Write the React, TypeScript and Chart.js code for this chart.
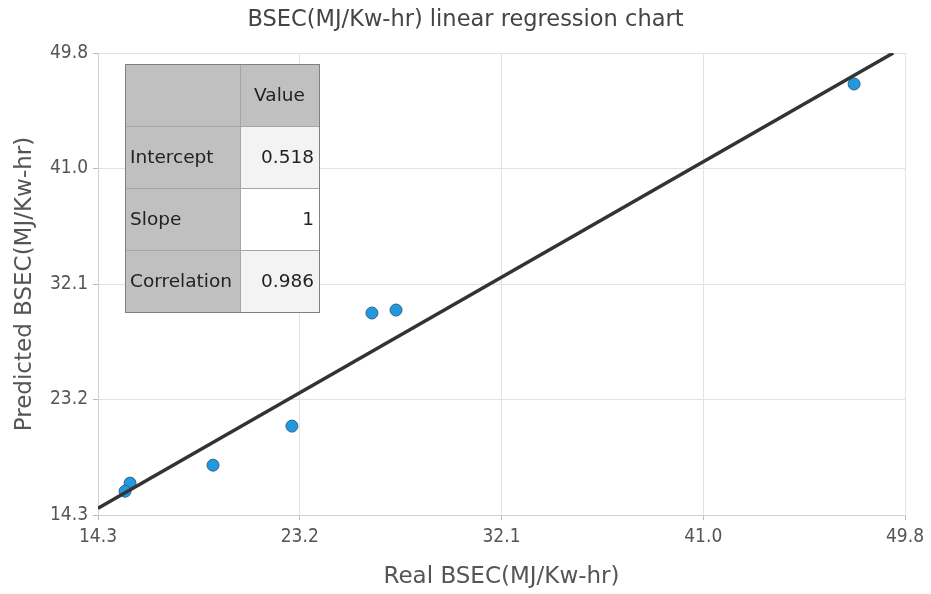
import React, { useEffect, useRef } from "react";
import { Chart, registerables } from "chart.js";

Chart.register(...registerables);

const realValues = [47.56, 27.41, 26.35, 22.83, 19.36, 15.71, 15.49];
const predictedValues = [47.42, 30.05, 29.82, 21.13, 18.13, 16.75, 16.13];
const tickValues = [14.3, 23.175, 32.05, 40.925, 49.8];
const tickLabels = ["14.3", "23.2", "32.1", "41.0", "49.8"];
const tableHeader = ["", "Value"];
const tableLabels = ["Intercept", "Slope", "Correlation"];
const tableValues = ["0.518", "1", "0.986"];
const intercept = 0.518;
const slope = 1;

const FONT_C = "'DejaVu Sans Condensed', 'DejaVu Sans', sans-serif";
const FONT = "'DejaVu Sans', sans-serif";

const tablePlugin = {
  id: "regTable",
  afterDraw(chart: any) {
    const { ctx, chartArea } = chart;
    const x0 = chartArea.left + 27;
    const y0 = chartArea.top + 11;
    const c1 = 115;
    const c2 = 79;
    const rh = 62;
    ctx.save();
    ctx.font = `18.5px ${FONT}`;
    ctx.textBaseline = "middle";
    const rows = [tableHeader, ...tableLabels.map((l, i) => [l, tableValues[i]])];
    rows.forEach((row, r) => {
      const y = y0 + r * rh;
      ctx.fillStyle = "#c0c0c0";
      ctx.fillRect(x0, y, c1, rh);
      ctx.fillStyle = r === 0 ? "#c0c0c0" : r % 2 === 1 ? "#f3f3f3" : "#ffffff";
      ctx.fillRect(x0 + c1, y, c2, rh);
      ctx.strokeStyle = "#a6a6a6";
      ctx.lineWidth = 1;
      ctx.strokeRect(x0 + 0.5, y + 0.5, c1, rh);
      ctx.strokeRect(x0 + c1 + 0.5, y + 0.5, c2, rh);
      ctx.fillStyle = "#222";
      ctx.textAlign = "left";
      if (row[0]) ctx.fillText(row[0], x0 + 5, y + rh / 2 + 1);
      if (r === 0) {
        ctx.textAlign = "center";
        ctx.fillText(row[1], x0 + c1 + c2 / 2, y + rh / 2 + 1);
      } else {
        ctx.textAlign = "right";
        ctx.fillText(row[1], x0 + c1 + c2 - 5, y + rh / 2 + 1);
      }
    });
    ctx.strokeStyle = "#808080";
    ctx.strokeRect(x0 + 0.5, y0 + 0.5, c1 + c2, rh * rows.length);
    ctx.restore();
  },
};

export default function App() {
  const ref = useRef<HTMLCanvasElement>(null);
  useEffect(() => {
    document.body.style.margin = "0";
    const xMin = tickValues[0];
    const xMax = tickValues[tickValues.length - 1];
    const lineData = [
      { x: xMin, y: intercept + slope * xMin },
      { x: (xMax - intercept) / slope, y: xMax },
    ];
    const chart = new Chart(ref.current!, {
      type: "scatter",
      data: {
        datasets: [
          {
            type: "line",
            data: lineData,
            borderColor: "#333333",
            borderWidth: 3.5,
            pointRadius: 0,
            fill: false,
          } as any,
          {
            data: realValues.map((x, i) => ({ x, y: predictedValues[i] })),
            backgroundColor: "#1e9be0",
            borderColor: "#3a5f7a",
            borderWidth: 1,
            pointRadius: 6,
          },
        ],
      },
      options: {
        responsive: false,
        animation: false,
        layout: { padding: 0 },
        plugins: {
          legend: { display: false },
          tooltip: { enabled: false },
          title: {
            display: true,
            text: "BSEC(MJ/Kw-hr) linear regression chart",
            color: "#444",
            font: { family: FONT, size: 22.5, weight: "normal" },
            padding: { top: 6.5, bottom: 19.5 },
          },
        },
        scales: {
          x: {
            type: "linear",
            min: xMin,
            max: xMax,
            afterBuildTicks: (s: any) => {
              s.ticks = tickValues.map((v) => ({ value: v }));
            },
            afterFit: (s: any) => {
              s.height = 79;
            },
            ticks: {
              callback: (v: any) => tickLabels[tickValues.indexOf(v)] ?? "",
              color: "#555",
              font: { family: FONT_C, size: 19 },
              padding: 6,
              maxRotation: 0,
            },
            grid: { color: "#e2e2e2", tickLength: 5, tickColor: "#bbb" },
            border: { color: "#d0d0d0" },
            title: {
              display: true,
              text: "Real BSEC(MJ/Kw-hr)",
              color: "#555",
              font: { family: FONT, size: 23 },
              padding: { top: 0, bottom: 3.2 },
            },
          },
          y: {
            type: "linear",
            min: xMin,
            max: xMax,
            afterBuildTicks: (s: any) => {
              s.ticks = tickValues.map((v) => ({ value: v }));
            },
            afterFit: (s: any) => {
              s.width = 98;
            },
            ticks: {
              callback: (v: any) => tickLabels[tickValues.indexOf(v)] ?? "",
              color: "#555",
              font: { family: FONT_C, size: 19 },
              padding: 5,
            },
            grid: { color: "#e2e2e2", tickLength: 5, tickColor: "#bbb" },
            border: { color: "#d0d0d0" },
            title: {
              display: true,
              text: "Predicted BSEC(MJ/Kw-hr)",
              color: "#555",
              font: { family: FONT, size: 23 },
              padding: { top: 11.2, bottom: 0 },
            },
          },
          yRightSpacer: {
            type: "linear",
            position: "right",
            min: xMin,
            max: xMax,
            afterFit: (s: any) => {
              s.width = 26;
            },
            ticks: { display: false },
            grid: { display: false, drawOnChartArea: false },
            border: { display: false },
          },
        },
      },
      plugins: [tablePlugin],
    });
    return () => chart.destroy();
  }, []);
  return (
    <div style={{ position: "relative", width: 931, height: 594 }}>
      <canvas ref={ref} width={931} height={594} />
    </div>
  );
}
